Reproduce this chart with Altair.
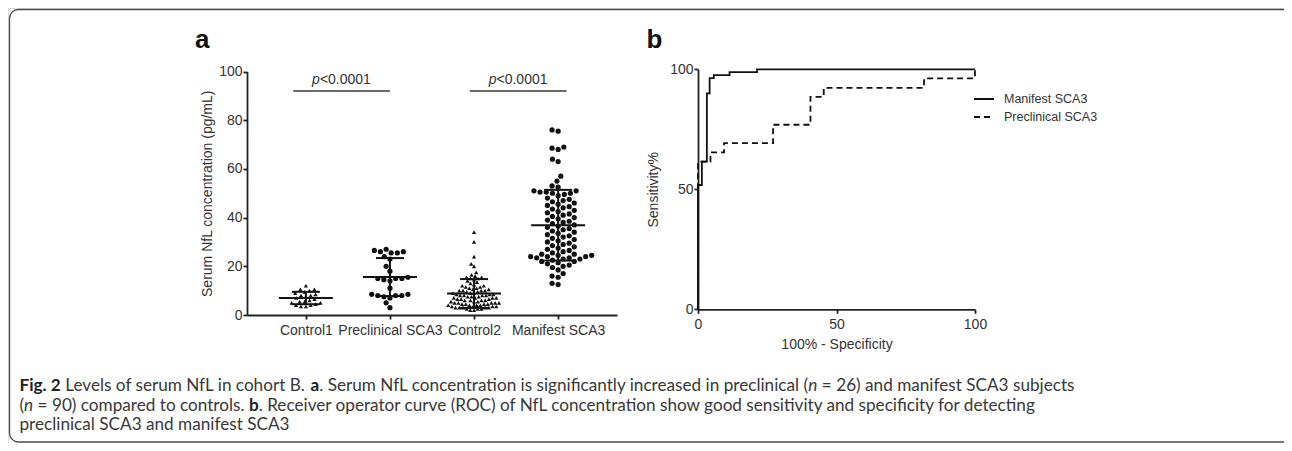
import glob
import os
import struct

import altair as alt
import pandas as pd

# ---------------------------------------------------------------- data
groups = ["Control1", "Preclinical SCA3", "Control2", "Manifest SCA3"]
group_shapes = ["triangle-up", "circle", "triangle-up", "circle"]

control1 = [12, 10.5, 10.5, 10, 9.5, 9, 8.5, 8, 8, 7.5, 7, 6.5, 6, 5.5, 5.5,
            5, 5, 4.5, 4, 4, 3.5, 3.5]
preclinical_sca3 = [27, 26.5, 26, 26, 25.5, 25.5, 24, 23, 20, 18, 15.5, 15, 15,
                    15, 14.5, 14, 11, 8.5, 8.5, 8, 8, 8, 7.5, 7, 5, 3]
control2 = [34, 30, 24, 21, 20, 17.5, 16.5,
            16, 15.5, 15.5, 15, 15, 14.5,
            14, 13.5, 13, 12.5, 12, 12, 11.5, 11.5,
            11, 11, 10.5, 10.5, 10, 10, 10, 10, 9.5, 9.5,
            9, 9, 9, 8.5, 8.5, 8.5, 8, 8, 8, 8,
            7.5, 7.5, 7.5, 7, 7, 7, 7, 6.5, 6.5, 6.5, 6, 6, 6, 6,
            5.5, 5.5, 5.5, 5, 5, 5, 5, 5, 4.5, 4.5, 4.5, 4.5, 4, 4, 4, 4,
            3.5, 3.5, 3.5, 3.5, 3, 3, 3, 3, 3, 2.5, 2.5, 2.5, 2, 2]
manifest_sca3 = [76, 75.5, 69, 68.5, 68, 64, 63, 57, 55, 53, 52.5,
                 51, 51, 50.5, 50.5, 50, 50, 49.5, 49,
                 48, 47.5, 47, 46.5, 46, 45.5, 45, 44.5,
                 44, 43.5, 43, 42.5, 42, 41.5, 41, 40.5, 40,
                 39.5, 39, 38.5, 38, 37.5, 37, 36.5, 36, 35.5, 35,
                 34.5, 34, 33.5, 33, 32.5, 32, 31.5, 31, 30.5, 30,
                 29.5, 29, 28.5, 28, 27.5, 27, 26.5, 26, 25.5, 25,
                 25, 24.5, 24.5, 24, 24, 24, 23.5, 23.5, 23, 23,
                 22.5, 22, 22, 21.5, 21, 20.5, 20, 19.5, 18.5, 17, 16, 15.5,
                 13, 12.5]

bracket_from = [0.85, 2.95]
bracket_to = [2.0, 4.1]
bracket_y = [92, 92]
bracket_label = ["<0.0001", "<0.0001"]

roc_series = ["Manifest SCA3", "Preclinical SCA3"]
manifest_fpr = [0, 0, 1.4, 1.4, 3.2, 3.2, 4.2, 4.2, 5.7, 5.7, 11.4, 11.4, 21.3, 21.3, 100]
manifest_tpr = [0, 51.8, 51.8, 61.5, 61.5, 90.0, 90.0, 96.3, 96.3, 97.6, 97.6, 98.8, 98.8, 100, 100]
preclinical_fpr = [0, 0, 4.5, 4.5, 9.4, 9.4, 27.1, 27.1, 40.6, 40.6, 45.4, 45.4,
                   81.6, 81.6, 100, 100]
preclinical_tpr = [0, 61.5, 61.5, 65.4, 65.4, 69.2, 69.2, 76.9, 76.9, 88.5, 88.5, 92.3,
                   92.3, 96.2, 96.2, 100]

caption_lines = [
    [("Fig. 2", "bold"), (" Levels of serum NfL in cohort B. ", "normal"), ("a", "bold"),
     (". Serum NfL concentration is significantly increased in preclinical (", "normal"),
     ("n", "italic"), (" = 26) and manifest SCA3 subjects", "normal")],
    [("(", "normal"), ("n", "italic"), (" = 90) compared to controls. ", "normal"), ("b", "bold"),
     (". Receiver operator curve (ROC) of NfL concentration show good sensitivity and "
      "specificity for detecting", "normal")],
    [("preclinical SCA3 and manifest SCA3", "normal")],
]

# ---------------------------------------------------------------- layout
W, H = 1276, 435
A_X = [239, 609]          # panel a x range (px)
A_Y = [307, 63.5]         # panel a y range (px)
B_X = [690, 967]
B_Y = [301.3, 61.3]
SWARM_DIAM = [5.0, 6.2, 3.8, 6.2]   # packing distance per group (px)
FONT = "Liberation Sans"
TXT = "#333333"


# ---------------------------------------------------------------- font metrics
def _ttf_width_fn(path):
    with open(path, "rb") as fh:
        data = fh.read()
    off0 = struct.unpack(">I", data[12:16])[0] if data[:4] == b"ttcf" else 0
    num = struct.unpack(">H", data[off0 + 4:off0 + 6])[0]
    tabs = {}
    for i in range(num):
        rec = off0 + 12 + 16 * i
        tag = data[rec:rec + 4].decode("latin-1")
        tabs[tag] = struct.unpack(">I", data[rec + 8:rec + 12])[0]
    upem = struct.unpack(">H", data[tabs["head"] + 18:tabs["head"] + 20])[0]
    nhm = struct.unpack(">H", data[tabs["hhea"] + 34:tabs["hhea"] + 36])[0]
    hm = tabs["hmtx"]
    adv = [struct.unpack(">H", data[hm + 4 * i:hm + 4 * i + 2])[0] for i in range(nhm)]
    cm = tabs["cmap"]
    nsub = struct.unpack(">H", data[cm + 2:cm + 4])[0]
    sub = None
    for i in range(nsub):
        pid, eid, so = struct.unpack(">HHI", data[cm + 4 + 8 * i:cm + 12 + 8 * i])
        fmt = struct.unpack(">H", data[cm + so:cm + so + 2])[0]
        if fmt == 4:
            sub = cm + so
            break
    seg2 = struct.unpack(">H", data[sub + 6:sub + 8])[0]
    n = seg2 // 2
    ends = struct.unpack(">%dH" % n, data[sub + 14:sub + 14 + seg2])
    starts = struct.unpack(">%dH" % n, data[sub + 16 + seg2:sub + 16 + 2 * seg2])
    deltas = struct.unpack(">%dh" % n, data[sub + 16 + 2 * seg2:sub + 16 + 3 * seg2])
    rbase = sub + 16 + 3 * seg2
    roffs = struct.unpack(">%dH" % n, data[rbase:rbase + seg2])

    def glyph(c):
        for k in range(n):
            if ends[k] >= c:
                if starts[k] > c:
                    return 0
                if roffs[k] == 0:
                    return (c + deltas[k]) & 0xFFFF
                a = rbase + 2 * k + roffs[k] + 2 * (c - starts[k])
                g = struct.unpack(">H", data[a:a + 2])[0]
                return (g + deltas[k]) & 0xFFFF if g else 0
        return 0

    def width(text):
        return sum(adv[min(glyph(ord(ch)), nhm - 1)] for ch in text) / upem

    return width


def _find(name):
    for root in ["/usr/share/fonts", "/usr/local/share/fonts",
                 os.path.expanduser("~/.fonts"), os.path.expanduser("~/.local/share/fonts")]:
        hits = glob.glob(os.path.join(root, "**", name), recursive=True)
        if hits:
            return hits[0]
    return None


CAP_FONT = "Lato"
widths = {}
for fam, files in [("Lato", ["Lato-Regular.ttf", "Lato-Bold.ttf", "Lato-Italic.ttf"])]:
    reg = _find(files[0])
    if reg:
        try:
            base = _ttf_width_fn(reg)
            widths = {"normal": base}
            for kind, fn in zip(["bold", "italic"], files[1:]):
                p = _find(fn)
                widths[kind] = _ttf_width_fn(p) if p else (lambda t, b=base: b(t) * 1.05)
            CAP_FONT = fam
            break
        except Exception:
            widths = {}
if not widths:
    widths = {k: (lambda t: len(t) * 0.45) for k in ["normal", "bold", "italic"]}

line1_em = sum(widths[k](s) for s, k in caption_lines[0])
CAP_SIZE = 1060.0 / line1_em
CAP_X0 = 11.5
CAP_Y = [383, 402.5, 422]
KERN = 0.994   # browsers kern long runs slightly tighter than raw advances

cap_rows = []
for li, segs in enumerate(caption_lines):
    cur = CAP_X0
    for s, kind in segs:
        lead = len(s) - len(s.lstrip())
        cap_rows.append({"text": s.strip(), "px": cur + widths[kind](s[:lead]) * CAP_SIZE,
                         "py": CAP_Y[li], "kind": kind})
        cur += widths[kind](s) * CAP_SIZE * (KERN if len(s) > 20 else 1.0)
df_cap = pd.DataFrame(cap_rows)


# ---------------------------------------------------------------- beeswarm
def swarm_offsets(values, px_per_unit, diam):
    ys = [v * px_per_unit for v in values]
    order = sorted(range(len(values)), key=lambda i: ys[i])
    placed, out = [], [0.0] * len(values)
    for i in order:
        y = ys[i]
        near = [(px, py) for px, py in placed if abs(py - y) < diam]
        cands = [0.0]
        for px, py in near:
            dx = (diam * diam - (py - y) ** 2) ** 0.5
            cands += [px + dx, px - dx]
        cands.sort(key=lambda c: (abs(c), c))
        for c in cands:
            if all((c - px) ** 2 + (y - py) ** 2 >= diam * diam - 1e-6 for px, py in near):
                out[i] = c
                break
        placed.append((out[i], y))
    return out


x_px_per_unit = (A_X[1] - A_X[0]) / 4.4
y_px_per_unit = (A_Y[0] - A_Y[1]) / 100.0
rows = []
for gi, (g, vals) in enumerate(zip(groups, [control1, preclinical_sca3, control2, manifest_sca3])):
    offs = swarm_offsets(vals, y_px_per_unit, SWARM_DIAM[gi])
    for v, o in zip(vals, offs):
        rows.append({"group": g, "gid": gi + 1, "value": v, "xpos": gi + 1 + o / x_px_per_unit})
df_a = pd.DataFrame(rows)

df_br = pd.DataFrame({"x1": bracket_from, "x2": bracket_to, "by": bracket_y, "lab": bracket_label})

roc_rows = []
for s, xs, ys in [(roc_series[0], manifest_fpr, manifest_tpr),
                  (roc_series[1], preclinical_fpr, preclinical_tpr)]:
    for i, (a, b) in enumerate(zip(xs, ys)):
        roc_rows.append({"series": s, "idx": i, "fpr": a, "tpr": b})
df_roc = pd.DataFrame(roc_rows)

# ---------------------------------------------------------------- axes / scales
AX = dict(domainColor="#222222", domainWidth=1.8, tickColor="#222222", tickWidth=1.8,
          tickSize=4, labelFont=FONT, labelFontSize=14, labelColor=TXT, grid=False,
          titleFont=FONT, titleFontSize=14, titleFontWeight="normal", titleColor=TXT,
          labelFlush=False, labelOverlap=False)

label_expr = "[" + ",".join("'%s'" % g for g in groups) + "][datum.value - 1]"
axA_x = alt.Axis(orient="bottom", offset=A_Y[0] - H, values=[1, 2, 3, 4], labelExpr=label_expr,
                 labelPadding=4, title=None, **AX)
axA_y = alt.Axis(orient="left", offset=-A_X[0], values=[0, 20, 40, 60, 80, 100], labelPadding=1,
                 title="Serum NfL concentration (pg/mL)", titlePadding=4, **AX)
scA_x = alt.Scale(domain=[0.3, 4.7], range=A_X, nice=False, zero=False)
scA_y = alt.Scale(domain=[0, 100], range=A_Y, nice=False)

axB_x = alt.Axis(orient="bottom", offset=B_Y[0] - H, values=[0, 50, 100], labelPadding=4,
                 title="100% - Specificity", titlePadding=6, **AX)
axB_y = alt.Axis(orient="left", offset=-B_X[0], values=[0, 50, 100], labelPadding=1,
                 title="Sensitivity%", titlePadding=9, **AX)
scB_x = alt.Scale(domain=[0, 100], range=B_X, nice=False)
scB_y = alt.Scale(domain=[0, 100], range=B_Y, nice=False)


def xa(f):
    return alt.X(f, scale=scA_x, axis=axA_x)


def ya(f):
    return alt.Y(f, scale=scA_y, axis=axA_y)


# ---------------------------------------------------------------- panel a
pts_circ = alt.Chart(df_a).transform_filter(
    alt.FieldOneOfPredicate(field="group", oneOf=[groups[1], groups[3]])
).mark_point(shape="circle", filled=True, size=27, opacity=1, color="#111111",
             strokeWidth=0).encode(x=xa("xpos:Q"), y=ya("value:Q"))
pts_tri = alt.Chart(df_a).transform_filter(
    alt.FieldOneOfPredicate(field="group", oneOf=[groups[0], groups[2]])
).mark_point(shape="triangle-up", filled=True, size=18, opacity=1, color="#111111",
             strokeWidth=0).encode(x=xa("xpos:Q"), y=ya("value:Q"))
stats = alt.Chart(df_a).transform_aggregate(
    m="mean(value)", sd="stdev(value)", groupby=["gid"]
).transform_calculate(lo="datum.m - datum.sd", hi="datum.m + datum.sd")
sd_rule = stats.mark_rule(color="#111111", strokeWidth=2).encode(
    x=xa("gid:Q"), y=ya("lo:Q"), y2="hi:Q")
mean_tick = stats.mark_tick(orient="horizontal", size=54, thickness=2, color="#111111",
                            opacity=1).encode(x=xa("gid:Q"), y=ya("m:Q"))
cap_tick = stats.transform_fold(["lo", "hi"], as_=["cap", "capv"]).mark_tick(
    orient="horizontal", size=28, thickness=2, color="#111111", opacity=1).encode(
    x=xa("gid:Q"), y=ya("capv:Q"))
br_rule = alt.Chart(df_br).mark_rule(color="#3a3a3a", strokeWidth=1.6).encode(
    x=xa("x1:Q"), x2="x2:Q", y=ya("by:Q"))
br_base = alt.Chart(df_br).transform_calculate(mid="(datum.x1 + datum.x2) / 2")
p_it = br_base.mark_text(font=FONT, fontSize=14, fontStyle="italic", align="right",
                         baseline="alphabetic", dx=-21.7, dy=-7, color=TXT).encode(
    x=xa("mid:Q"), y=ya("by:Q"), text=alt.value("p"))
p_rest = br_base.mark_text(font=FONT, fontSize=14, align="left", baseline="alphabetic",
                           dx=-21.7, dy=-7, color=TXT).encode(
    x=xa("mid:Q"), y=ya("by:Q"), text="lab:N")
panel_a = alt.layer(pts_circ, pts_tri, sd_rule, mean_tick, cap_tick, br_rule, p_it, p_rest)

# ---------------------------------------------------------------- panel b
roc = alt.Chart(df_roc).mark_line(color="#111111", strokeWidth=1.8).encode(
    x=alt.X("fpr:Q", scale=scB_x, axis=axB_x),
    y=alt.Y("tpr:Q", scale=scB_y, axis=axB_y),
    strokeDash=alt.StrokeDash(
        "series:N",
        scale=alt.Scale(domain=roc_series, range=[[1, 0], [6, 4]]),
        legend=alt.Legend(title=None, orient="none", legendX=965, legendY=80,
                          symbolType="stroke", symbolSize=400, symbolStrokeWidth=2,
                          symbolStrokeColor="#111111", labelFont=FONT, labelFontSize=12.5,
                          labelColor=TXT, labelOffset=9, rowPadding=0),
    ),
    order="idx:Q",
)

# ---------------------------------------------------------------- panel letters, caption, frame
df_letters = pd.DataFrame({"text": ["a", "b"], "px": [187, 638.5], "py": [40, 40]})
letters = alt.Chart(df_letters).mark_text(font=FONT, fontSize=26, fontWeight="bold",
                                          align="left", baseline="alphabetic",
                                          color="#111111").encode(
    x=alt.X("px:Q", scale=None, axis=None), y=alt.Y("py:Q", scale=None, axis=None),
    text="text:N")

cap_layers = []
for kind, extra in [("normal", {}), ("bold", {"fontWeight": "bold"}),
                    ("italic", {"fontStyle": "italic"})]:
    cap_layers.append(
        alt.Chart(df_cap).transform_filter(alt.datum.kind == kind).mark_text(
            font=CAP_FONT, fontSize=CAP_SIZE, align="left", baseline="alphabetic",
            color="#222222" if kind == "bold" else "#383838", **extra).encode(
            x=alt.X("px:Q", scale=None, axis=None), y=alt.Y("py:Q", scale=None, axis=None),
            text="text:N"))

frame = alt.Chart(pd.DataFrame({"f": [0]})).mark_rect(
    fillOpacity=0, stroke="#4a4a4a", strokeWidth=1.3, cornerRadius=9).encode(
    x=alt.value(1.5), x2=alt.value(1300), y=alt.value(1.5), y2=alt.value(434))

chart = alt.layer(frame, panel_a, roc, letters, *cap_layers).resolve_scale(
    x="independent", y="independent"
).properties(
    width=W, height=H, padding=0, autosize=alt.AutoSizeParams(type="none")
).configure_view(strokeWidth=0).configure(font=FONT)

chart.save("out.html", embed_options={"renderer": "svg", "actions": False})
